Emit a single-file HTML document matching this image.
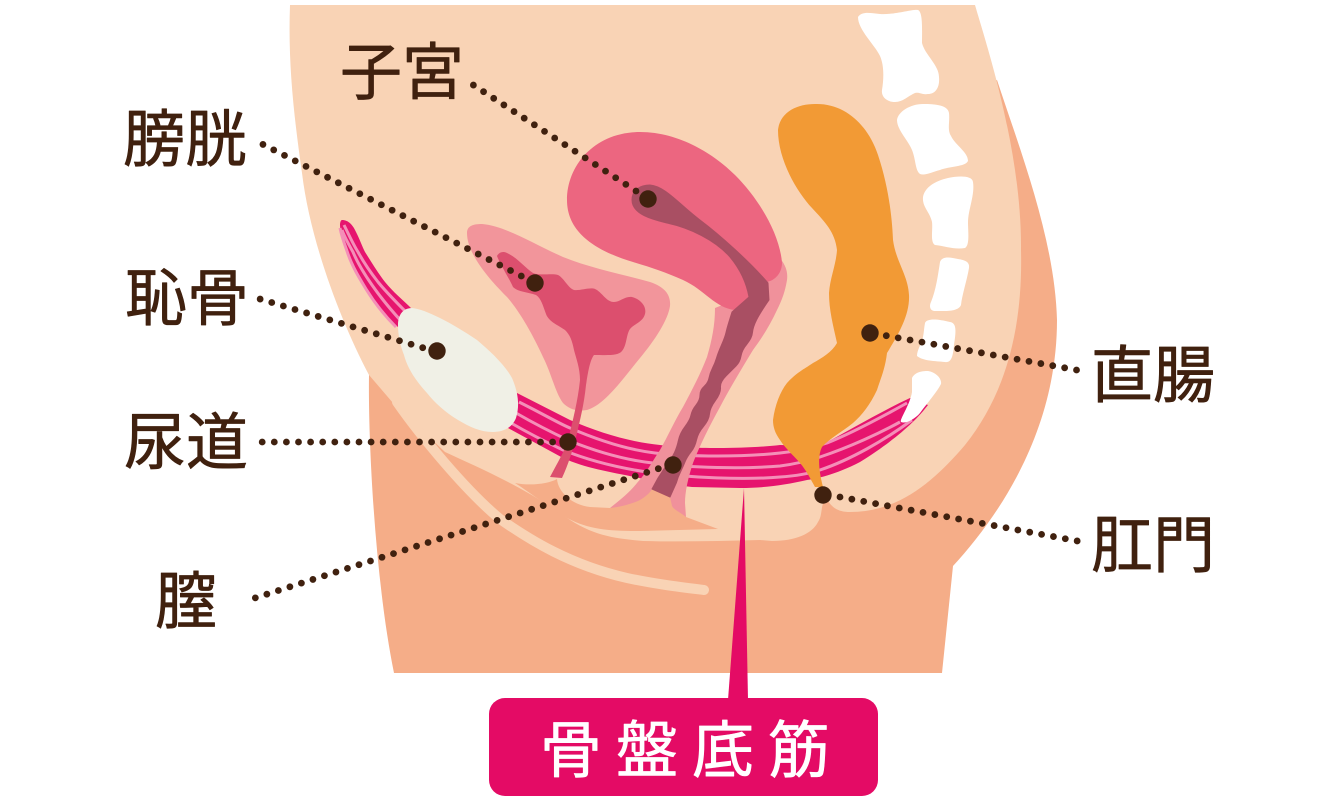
<!DOCTYPE html>
<html lang="ja">
<head>
<meta charset="utf-8">
<title>骨盤底筋</title>
<style>
html,body{margin:0;padding:0;background:#fff;width:1340px;height:800px;overflow:hidden}
svg{display:block}
text{font-family:"Liberation Sans","Noto Sans CJK JP",sans-serif;fill:#40210F;stroke:#40210F;stroke-width:.7;stroke-linejoin:round;font-size:62px}
.dot{fill:none;stroke:#40210F;stroke-width:6.8;stroke-linecap:round}
.st{fill:none;stroke:#F48FB8;stroke-width:3}
</style>
</head>
<body>
<svg width="1340" height="800" viewBox="0 0 1340 800" xmlns="http://www.w3.org/2000/svg">
<!-- dark body -->
<path fill="#F5AD88" d="M369,375 C368,440 375,580 394,673 L942,673 L953,566 C1000,515 1057,430 1057,320 C1055,240 1020,150 997,80 L960,100 L600,100Z"/>
<!-- light body -->
<path fill="#F9D3B5" d="M290,5 L975,5 C985,40 1022,150 1021,250 C1023,330 1005,395 965,445 C935,480 900,512 850,512 C838,512 832,508 826,498 C820,505 823,515 818,522 C812,534 795,541 772,541 L760,540 C720,541 680,542 643,541 C610,538 590,535 560,513 C520,485 475,466 445,452 L393,403 L369,375 C340,320 310,240 302,173 C293,110 288,60 290,5Z"/>
<!-- dark patch between strips -->
<path fill="#F5AD88" d="M515,483 C530,486 548,484 557,479 C558,492 572,505 590,507 L610,508 L652,489 L670,497 L686,517 L718,529 L640,531 C610,531 590,530 567,518 C550,508 532,494 515,483Z"/>
<!-- long strip -->
<path fill="none" stroke="#F9D3B5" stroke-width="10" stroke-linecap="round" d="M397,402 C420,435 465,490 500,519 C530,540 570,565 627,578 C655,584 680,587 704,590"/>
<!-- pelvic floor muscle -->
<path fill="#E6146E" d="M517,393 L570,420 C600,433 630,442 660,445 C690,449 745,449 780,445 L820,446 C850,430 880,412 910,398 L928,405 C915,422 895,440 860,462 C835,475 815,479 807,480 C785,485 765,488 740,488 L692,487 C675,485 655,482 635,477 C610,472 585,468 563,458 L508,428Z"/>
<path class="st" d="M519,402 C545,415 560,424 570,428 C600,441 630,450 655,453 C690,457 745,457 780,453 C800,451 815,447 827,443 C850,434 880,418 907,403"/>
<path class="st" d="M516,413 C535,424 555,434 570,441 C595,451 625,460 653,463 C690,468 745,469 780,466 C795,464 808,461 820,457 C850,447 880,433 900,422"/>
<path class="st" d="M511,423 C530,434 548,443 563,450 C590,461 620,468 647,472 C690,478 745,480 780,477 C795,476 808,474 820,470 C850,460 885,440 912,420"/>
<!-- upper muscle near bone -->
<path fill="#E6146E" d="M342,220 C347,220 352,223 356,232 C360,240 362,246 365,252 C372,263 378,273 385,282 C393,292 403,300 412,309 L398,327 C385,316 375,302 365,288 C357,277 351,265 348,252 C344,243 340,232 340,225 C340,222 341,220 342,220Z"/>
<path class="st" d="M344,225 C349,235 353,244 358,252 C364,263 371,273 378,282 C387,293 397,303 407,313"/>
<path class="st" d="M342,230 C345,238 349,245 353,252 C358,264 365,275 372,285 C381,298 391,310 402,322"/>
<path class="st" stroke-width="2.6" d="M340,228 C342,238 345,245 348,254 C353,268 360,279 366,289 C374,302 384,315 396,327"/>
<!-- pubic bone -->
<path fill="#F0F0E6" d="M398,325 C398,315 403,308 412,308 C425,309 452,323 477,340 C490,351 505,365 512,378 C518,392 520,405 516,418 C512,428 503,432 493,432 C480,432 470,427 458,420 C445,412 435,403 427,393 C415,380 407,367 404,355 C400,345 398,335 398,325Z"/>
<!-- bladder -->
<path fill="#F2959B" d="M467,233 C467,226 473,224 482,224 C505,226 530,242 563,257 C590,268 625,275 650,282 C665,287 671,295 670,306 C668,320 655,340 640,358 C625,376 605,405 587,410 C575,412 568,408 563,403 C555,392 552,375 543,357 C533,335 520,312 507,297 C492,282 467,255 467,233Z"/>
<path fill="#DC4F6E" d="M497,256 C499,252 503,251 507,253 C518,258 525,268 533,273 C540,276 552,273 558,275 C564,278 568,288 574,290 C580,291 590,287 595,289 C602,292 606,302 614,302 C620,302 625,296 632,297 C640,299 647,306 645,314 C643,322 634,324 630,329 C626,335 627,345 622,351 C618,356 608,355 594,355 C590,360 588,372 586,385 C584,405 580,420 577,433 C573,450 568,465 562,478 L550,477 C558,462 565,450 568,440 C573,420 578,400 580,380 C580,368 576,358 574,350 C572,340 570,335 565,330 C558,325 549,322 546,314 C543,306 541,298 536,295 C528,292 518,292 513,287 C510,280 500,264 497,256Z"/>
<!-- vagina outer -->
<path fill="#F0919B" d="M780,258 C786,266 788,272 787,280 C785,292 782,300 777,310 C770,325 762,338 753,350 C742,368 730,388 720,407 C710,425 700,445 693,463 C688,478 685,492 685,503 L686,517 C680,512 674,510 672,506 L670,497 L652,489 C650,493 645,497 640,500 C632,504 620,507 610,508 C620,500 630,492 637,483 C647,472 652,462 660,450 C668,436 675,420 683,407 C692,390 700,375 707,357 C712,340 715,325 715,308 L735,300Z"/>
<!-- uterus -->
<path fill="#EC6680" d="M567,200 C567,165 595,132 640,132 C680,132 715,155 735,175 C760,200 780,235 782,263 C782,275 772,283 763,282 L748,293 C752,300 745,312 735,310 C715,308 705,290 683,280 C665,272 650,267 633,262 C600,252 567,235 567,200Z"/>
<!-- cavity and vaginal canal -->
<path fill="#A94F63" stroke="#A94F63" stroke-width="1" stroke-linejoin="round" d="M632,200 C632,190 640,185 650,185 C665,186 680,205 700,220 C720,235 750,262 768,283 L769,300 Q760,313 756.5,320 Q753,327 752.5,332.5 Q752,338 747,344 Q742,350 741,356 Q740,362 736,366 Q732,370 726,376 Q720,382 720.5,387.5 Q721,393 715.5,400.5 Q710,408 709.5,414 Q709,420 703.5,426.5 Q698,433 696.5,440 Q695,447 691,452 Q687,457 685,462 Q683,467 680.5,472 Q678,477 676.5,482.5 L670,497 L652,489 L658,478 Q665,467 668.5,462.5 Q672,458 674.5,452.5 Q677,447 678.5,440 Q680,433 685,426.5 Q690,420 691,415 Q692,410 696,405 Q700,400 700,395 Q700,390 704,386.5 Q708,383 709,378 Q710,373 712.5,368 Q715,363 716.5,358 Q718,353 721.5,345 Q725,337 726,332.5 Q727,328 729.5,320 L732,312 L749,297 Q745,275 730,257 C715,240 690,228 667,223 C655,220 632,215 632,200Z"/>
<!-- rectum -->
<path fill="#F29A35" d="M815,104 C845,103 868,125 878,155 C888,185 892,215 893,240 C896,262 908,275 909,295 C910,315 898,335 887,353 C885,370 880,380 877,390 C870,405 862,415 853,423 C842,432 830,438 822,447 C818,455 818,468 823,487 L815,487 C810,478 806,470 800,463 C793,455 785,448 780,440 C775,433 773,427 773,420 C775,405 780,392 787,383 C797,372 806,368 813,363 C822,358 832,352 837,343 C833,325 829,310 829,293 C830,278 836,265 837,250 C835,232 825,222 812,208 C797,192 778,160 778,130 C780,112 797,104 815,104Z"/>
<!-- vertebrae -->
<g fill="#fff">
<path d="M858,17 C862,11 870,13 880,14 C895,15 912,9 918,10 C923,12 922,30 922,43 C925,55 939,65 939,77 C940,88 935,94 928,94 C922,95 920,92 915,93 C908,96 903,102 895,102 C887,102 881,97 882,90 C884,78 884,65 880,56 C875,45 858,30 858,17Z"/>
<path d="M897,120 C898,112 910,104 923,104 C935,104 948,105 949,113 C950,122 947,130 951,136 C956,146 968,152 968,161 C965,167 950,166 940,170 C932,172 925,176 920,174 C915,170 916,160 912,150 C908,140 897,130 897,120Z"/>
<path d="M923,197 C925,187 935,181 948,178 C958,176 972,175 973,182 C975,195 968,210 968,222 C968,232 970,245 965,248 C955,250 945,246 935,245 C930,242 933,230 932,222 C930,212 922,207 923,197Z"/>
<path d="M940,262 C942,256 950,257 958,259 C965,260 970,262 969,268 C967,280 962,295 961,305 C958,312 945,311 935,311 C930,311 929,306 931,302 C936,290 938,275 940,262Z"/>
<path d="M925,323 C927,318 938,319 950,322 C957,323 956,332 954,345 C953,355 952,363 945,362 C935,361 923,361 917,356 C917,350 921,345 923,337 C924,332 924,328 925,323Z"/>
<path d="M912,378 C915,372 922,371 928,371 C935,372 942,378 941,384 C937,392 928,402 920,413 C914,420 905,424 901,422 C899,420 910,405 912,392Z"/>
</g>
<!-- pointer and label -->
<path fill="#E40B65" d="M744,488 L748,700 L728,700Z"/>
<rect x="489" y="698" width="389" height="98" rx="16" ry="16" fill="#E40B65"/>
<!-- leader lines -->
<path class="dot" stroke-dasharray="0 12.13" d="M636,191 L473.3,85"/>
<path class="dot" stroke-dasharray="0 12.08" d="M521.3,276 L262.7,144.3"/>
<path class="dot" stroke-dasharray="0 12.12" d="M422.7,347.7 L260,299"/>
<path class="dot" stroke-dasharray="0 12.1" d="M552.6,442 L262,442"/>
<path class="dot" stroke-dasharray="0 12.09" d="M658.3,468.7 L255,598"/>
<path class="dot" stroke-dasharray="0 12.08" d="M886.3,335.7 L1076.7,370"/>
<path class="dot" stroke-dasharray="0 12.06" d="M840,497 L1077.4,541"/>
<g fill="#40210F">
<circle cx="648" cy="199" r="8.7"/>
<circle cx="535" cy="283" r="8.7"/>
<circle cx="437" cy="351" r="8.7"/>
<circle cx="568" cy="442" r="8.7"/>
<circle cx="673" cy="465" r="8.7"/>
<circle cx="870" cy="333" r="8.7"/>
<circle cx="823" cy="495" r="8.7"/>
</g>
<!-- labels -->
<text x="340" y="94">子宮</text>
<text x="123" y="161">膀胱</text>
<text x="125" y="320">恥骨</text>
<text x="124" y="464">尿道</text>
<text x="155" y="623">膣</text>
<text x="1091" y="397">直腸</text>
<text x="1091" y="567">肛門</text>
<text x="540" y="772" style="fill:#fff;stroke:#fff;letter-spacing:14px">骨盤底筋</text>
</svg>
</body>
</html>
